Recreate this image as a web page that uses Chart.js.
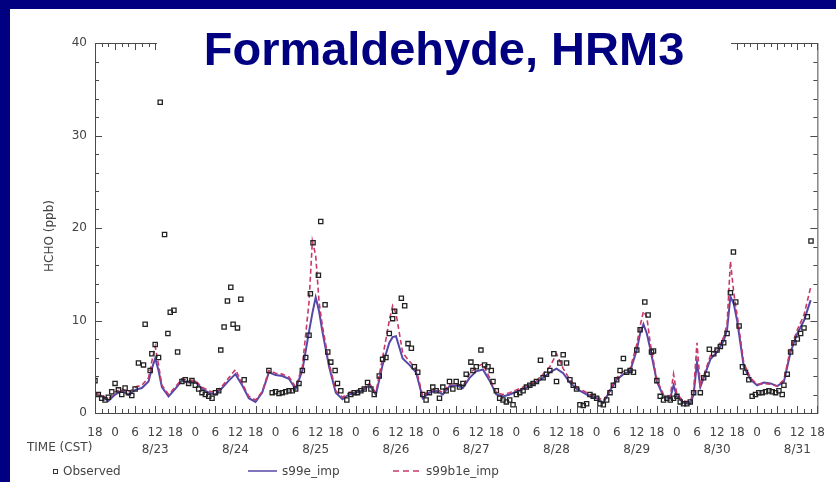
<!DOCTYPE html>
<html>
<head>
<meta charset="utf-8">
<script src="https://cdn.jsdelivr.net/npm/chart.js@4.4.1/dist/chart.umd.min.js"></script>
<style>
    html, body { margin: 0; padding: 0; background: #000080; }
    #wrap { width: 836px; height: 482px; }
</style>
</head>
<body>
<div id="wrap"><canvas id="chart" width="836" height="482"></canvas></div>
<script>
// hours since 8/22 18:00 CST, HCHO in ppb
const hourLabels = ['18','0','6','12','18','0','6','12','18','0','6','12','18','0','6','12','18','0','6','12',
    '18','0','6','12','18','0','6','12','18','0','6','12','18','0','6','12','18']
const dateLabels = ['8/23','8/24','8/25','8/26','8/27','8/28','8/29','8/30','8/31']

const s99eImp = [
    [0,2.0],[2,1.8],[4,1.3],[6,2.0],[8,2.4],[10,2.0],[12,2.5],[14,2.7],[16,3.4],[17,4.8],[18,5.9],[19,4.6],
    [20,2.8],[22,1.8],[24,2.6],[26,3.5],[28,3.3],[30,3.4],[32,2.6],[34,2.2],[36,2.0],[38,2.7],[40,3.5],
    [42,4.2],[44,3.0],[46,1.6],[48,1.2],[50,2.2],[52,4.4],[54,4.1],[56,4.0],[58,3.7],[60,2.6],[62,4.6],
    [64,8.8],[65,10.8],[66,12.5],[67,11.0],[68,8.8],[70,5.0],[72,2.2],[74,1.5],[76,2.0],[78,2.2],[80,2.4],
    [82,3.0],[84,2.0],[86,5.2],[88,7.6],[89,8.2],[90,8.3],[92,5.9],[94,5.2],[96,4.4],[98,1.6],[100,2.2],
    [102,2.4],[104,2.0],[106,2.9],[108,3.0],[110,2.7],[112,3.8],[114,4.5],[116,4.7],[118,3.5],[120,2.0],
    [122,1.8],[124,2.0],[126,2.3],[128,2.6],[130,2.9],[132,3.3],[134,3.8],[136,4.4],[138,4.8],[140,4.3],
    [142,3.3],[144,2.6],[146,2.2],[148,1.8],[150,1.6],[152,1.1],[154,2.4],[156,3.6],[158,4.2],[160,4.5],
    [162,6.8],[163,8.6],[164,9.6],[165,8.6],[166,7.0],[168,3.4],[170,1.8],[172,1.6],[173,3.0],[174,1.8],
    [176,1.1],[178,1.0],[179,2.0],[180,5.5],[181,2.8],[182,3.8],[184,5.8],[186,6.6],[188,7.8],[189,9.0],
    [190,12.6],[191,11.8],[192,10.0],[194,5.0],[196,3.6],[198,3.0],[200,3.3],[202,3.2],[204,2.9],[206,3.4],
    [208,6.6],[210,8.6],[212,10.0],[214,12.2]
]

const s99b1eImp = [
    [0,2.2],[2,1.9],[4,1.5],[6,2.3],[8,2.6],[10,2.2],[12,2.8],[14,3.0],[16,3.8],[17,5.6],[18,7.2],[19,5.2],
    [20,3.0],[22,2.0],[24,2.8],[26,3.7],[28,3.5],[30,3.5],[32,2.8],[34,2.4],[36,2.2],[38,2.9],[40,3.8],
    [42,4.7],[44,3.2],[46,1.8],[48,1.4],[50,2.3],[52,4.6],[54,4.3],[56,4.2],[58,3.9],[60,2.8],[62,5.0],
    [64,12.0],[65,18.6],[66,17.0],[67,12.0],[68,9.4],[70,5.4],[72,2.4],[74,1.7],[76,2.2],[78,2.4],[80,2.6],
    [82,3.2],[84,2.2],[86,6.0],[88,10.0],[89,11.6],[90,10.8],[92,6.5],[94,5.6],[96,4.8],[98,1.8],[100,2.4],
    [102,2.6],[104,2.2],[106,3.1],[108,3.2],[110,2.9],[112,4.2],[114,5.0],[116,5.3],[118,3.8],[120,2.2],
    [122,2.0],[124,2.2],[126,2.5],[128,2.8],[130,3.1],[132,3.5],[134,4.2],[136,5.0],[138,6.4],[140,4.8],
    [142,3.6],[144,2.8],[146,2.4],[148,2.0],[150,1.8],[152,1.3],[154,2.6],[156,3.8],[158,4.5],[160,4.8],
    [162,7.4],[163,9.4],[164,11.0],[165,10.4],[166,7.6],[168,3.6],[170,2.0],[172,1.8],[173,4.2],[174,2.0],
    [176,1.3],[178,1.2],[179,2.4],[180,7.6],[181,3.0],[182,4.0],[184,6.2],[186,7.0],[188,8.2],[189,9.6],
    [190,16.4],[191,13.0],[192,10.6],[194,5.4],[196,3.8],[198,3.1],[200,3.2],[202,3.1],[204,2.9],[206,3.6],
    [208,7.0],[210,9.0],[212,10.6],[214,13.6]
]

const observed = [
    [0,3.5],[1,2.0],[2,1.6],[3,1.4],[4,1.7],[5,2.3],[6,3.2],[7,2.5],[8,2.0],[9,2.7],[10,2.2],[11,1.9],
    [12,2.6],[13,5.4],[14.5,5.2],[15,9.6],[16.5,4.6],[17,6.4],[18,7.4],[19,6.0],[19.5,33.6],[20.8,19.3],
    [21.8,8.6],[22.5,10.9],[23.6,11.1],[24.7,6.6],[26,3.4],[27,3.6],[28,3.2],[29,3.5],[30,3.0],[31,2.6],
    [32,2.2],[33,2.0],[34,1.8],[35,1.6],[36,2.2],[37,2.4],[37.6,6.8],[38.6,9.3],[39.6,12.1],[40.6,13.6],
    [41.3,9.6],[42.6,9.2],[43.6,12.3],[44.6,3.6],[52,4.6],[53,2.2],[54,2.3],[55,2.1],[56,2.2],[57,2.3],
    [58,2.4],[59,2.4],[60,2.6],[61,3.2],[62,4.6],[63,6.0],[64,8.4],[64.4,12.9],[65.2,18.4],[66.8,14.9],
    [67.5,20.7],[68.8,11.7],[69.6,6.6],[70.5,5.5],[71.8,4.6],[72.5,3.2],[73.5,2.4],[75.3,1.4],[76.5,2.0],
    [77.5,2.2],[78.5,2.2],[79.5,2.4],[80.5,2.6],[81.5,3.3],[82.5,2.6],[83.5,2.0],[85,4.0],[86,5.8],[87,6.0],
    [88,8.6],[89,10.2],[89.6,11.0],[91.6,12.4],[92.6,11.6],[93.6,7.5],[94.6,7.0],[95.5,5.0],[96.5,4.4],
    [98,2.0],[99,1.4],[100,2.2],[101,2.8],[102,2.4],[103,1.6],[104,2.8],[105,2.4],[106,3.4],[107,2.6],
    [108,3.4],[109,2.8],[110,3.2],[111,4.2],[112.4,5.5],[113,4.6],[114,5.0],[115.4,6.8],[116.5,5.2],
    [117.5,5.0],[118.5,4.6],[119,3.4],[120,2.4],[121,1.6],[122,1.4],[123,1.2],[124,1.4],[125,0.9],[126,2.0],
    [127,2.2],[128,2.4],[129,2.8],[130,3.0],[131,3.2],[132,3.4],[133.2,5.7],[134,3.8],[135,4.2],[136,4.6],
    [137.2,6.4],[138,3.4],[139,5.4],[140,6.3],[141,5.4],[142,3.6],[143,3.0],[144,2.6],[145,0.9],[146,0.8],
    [147,1.0],[148,2.0],[149,1.8],[150,1.6],[151,1.0],[152,0.9],[153,1.4],[154,2.2],[155,3.0],[156,3.6],
    [157,4.6],[158,5.9],[159,4.4],[160,4.6],[161,4.4],[162,6.8],[163,9.0],[164.4,12.0],[165.4,10.6],
    [166.4,6.6],[167,6.7],[168,3.5],[169,1.8],[170,1.4],[171,1.6],[172,1.4],[173,1.6],[174,1.8],[175,1.2],
    [176,1.0],[177,1.0],[178,1.2],[179,2.2],[181,2.2],[182,3.8],[183,4.2],[183.7,6.9],[185,6.4],[186,6.8],
    [187,7.2],[188,7.6],[189,8.6],[190,13.0],[190.9,17.4],[191.6,12.0],[192.6,9.4],[193.6,5.0],[194.5,4.4],
    [195.5,3.6],[196.5,1.8],[197.5,2.0],[198.5,2.2],[199.5,2.2],[200.5,2.3],[201.5,2.4],[202.5,2.3],
    [203.5,2.2],[204.5,2.4],[205.5,2.0],[206,3.0],[207,4.2],[208,6.6],[209,7.6],[210,8.0],[211,8.6],
    [212,9.2],[213,10.4],[214.1,18.6]
]

const NAVY = '#000080'
const AXIS = '#4a4a4a'
const TEXT = '#444'
const SOLID = '#5548a8'
const DASHED = '#c8386a'
const tickFont = '12px "DejaVu Sans"'

const toXY = arr => arr.map(p => ({ x: p[0], y: p[1] }))

const frame = {
    id: 'frame',
    beforeDraw(chart) {
        const c = chart.ctx
        c.save()
        c.fillStyle = NAVY
        c.fillRect(0, 0, chart.width, chart.height)
        c.fillStyle = '#fff'
        c.fillRect(10, 9, chart.width - 10, chart.height - 9)
        c.restore()
    },
    afterDraw(chart) {
        const c = chart.ctx
        const a = chart.chartArea
        const xs = chart.scales.x
        const ys = chart.scales.y
        c.save()
        c.strokeStyle = AXIS
        c.lineWidth = 1
        c.strokeRect(a.left + 0.5, a.top + 0.5, a.right - a.left, a.bottom - a.top)

        c.beginPath()
        for (let v = 0; v <= 40; v += 2) {
            const y = Math.round(ys.getPixelForValue(v)) + 0.5
            const len = v % 10 === 0 ? 7 : 4
            c.moveTo(a.left, y); c.lineTo(a.left + len, y)
            c.moveTo(a.right, y); c.lineTo(a.right - len, y)
        }
        for (let h = 0; h <= 216; h += 2) {
            const x = Math.round(xs.getPixelForValue(h)) + 0.5
            const len = h % 6 === 0 ? 7 : 4
            c.moveTo(x, a.bottom); c.lineTo(x, a.bottom - len)
            c.moveTo(x, a.top); c.lineTo(x, a.top + len)
        }
        c.stroke()

        // title sits on a white band that hides the top axis
        c.fillStyle = '#fff'
        c.fillRect(157, 30, 574, 24)
        c.fillStyle = NAVY
        c.font = 'bold 47px "Liberation Sans"'
        c.textAlign = 'center'
        c.textBaseline = 'alphabetic'
        c.fillText('Formaldehyde, HRM3', 444, 65)

        c.fillStyle = TEXT
        c.font = tickFont
        c.textBaseline = 'middle'
        c.textAlign = 'left'
        c.fillText('TIME (CST)', 27, 448)

        c.save()
        c.translate(50, 236)
        c.rotate(-Math.PI / 2)
        c.textAlign = 'center'
        c.fillText('HCHO (ppb)', 0, 0)
        c.restore()

        // legend row
        c.strokeStyle = '#333'
        c.strokeRect(53.5, 469.5, 4, 4)
        c.fillText('Observed', 63, 472)
        c.strokeStyle = SOLID
        c.lineWidth = 1.5
        c.beginPath(); c.moveTo(248, 471); c.lineTo(277, 471); c.stroke()
        c.fillText('s99e_imp', 282, 472)
        c.strokeStyle = DASHED
        c.setLineDash([6, 4])
        c.beginPath(); c.moveTo(393, 471); c.lineTo(420, 471); c.stroke()
        c.setLineDash([])
        c.fillText('s99b1e_imp', 426, 472)
        c.restore()
    }
}

const ctx = document.getElementById('chart').getContext('2d')
window.myChart = new Chart(ctx, {
    type: 'line',
    data: {
        datasets: [
            {
                label: 'Observed',
                data: toXY(observed),
                showLine: false,
                pointStyle: 'rect',
                pointRadius: 3,
                pointBorderWidth: 1.3,
                pointBorderColor: '#222',
                pointBackgroundColor: 'rgba(255,255,255,0)',
                order: 0
            },
            {
                label: 's99e_imp',
                data: toXY(s99eImp),
                borderColor: SOLID,
                borderWidth: 2,
                pointRadius: 0,
                tension: 0,
                order: 2
            },
            {
                label: 's99b1e_imp',
                data: toXY(s99b1eImp),
                borderColor: DASHED,
                borderWidth: 1.6,
                borderDash: [5, 3],
                pointRadius: 0,
                tension: 0,
                order: 1
            }
        ]
    },
    options: {
        responsive: false,
        animation: false,
        layout: { padding: { top: 43, right: 14, left: 0, bottom: 0 } },
        plugins: { legend: { display: false }, tooltip: { enabled: false } },
        scales: {
            x: {
                type: 'linear',
                min: 0,
                max: 216,
                afterFit(s) { s.height = 69 },
                grid: { display: false, drawTicks: false },
                border: { display: false },
                ticks: {
                    stepSize: 6,
                    autoSkip: false,
                    maxRotation: 0,
                    padding: 11,
                    color: TEXT,
                    font: { family: 'DejaVu Sans', size: 12, lineHeight: 1.42 },
                    callback(v, i) {
                        const d = i % 4 === 3 ? dateLabels[(i - 3) / 4] : ''
                        return [hourLabels[i], d]
                    }
                }
            },
            y: {
                min: 0,
                max: 40,
                afterFit(s) { s.width = 95 },
                grid: { display: false, drawTicks: false },
                border: { display: false },
                ticks: {
                    stepSize: 10,
                    padding: 8,
                    color: TEXT,
                    font: { family: 'DejaVu Sans', size: 12 }
                }
            }
        }
    },
    plugins: [frame]
})
</script>
</body>
</html>
